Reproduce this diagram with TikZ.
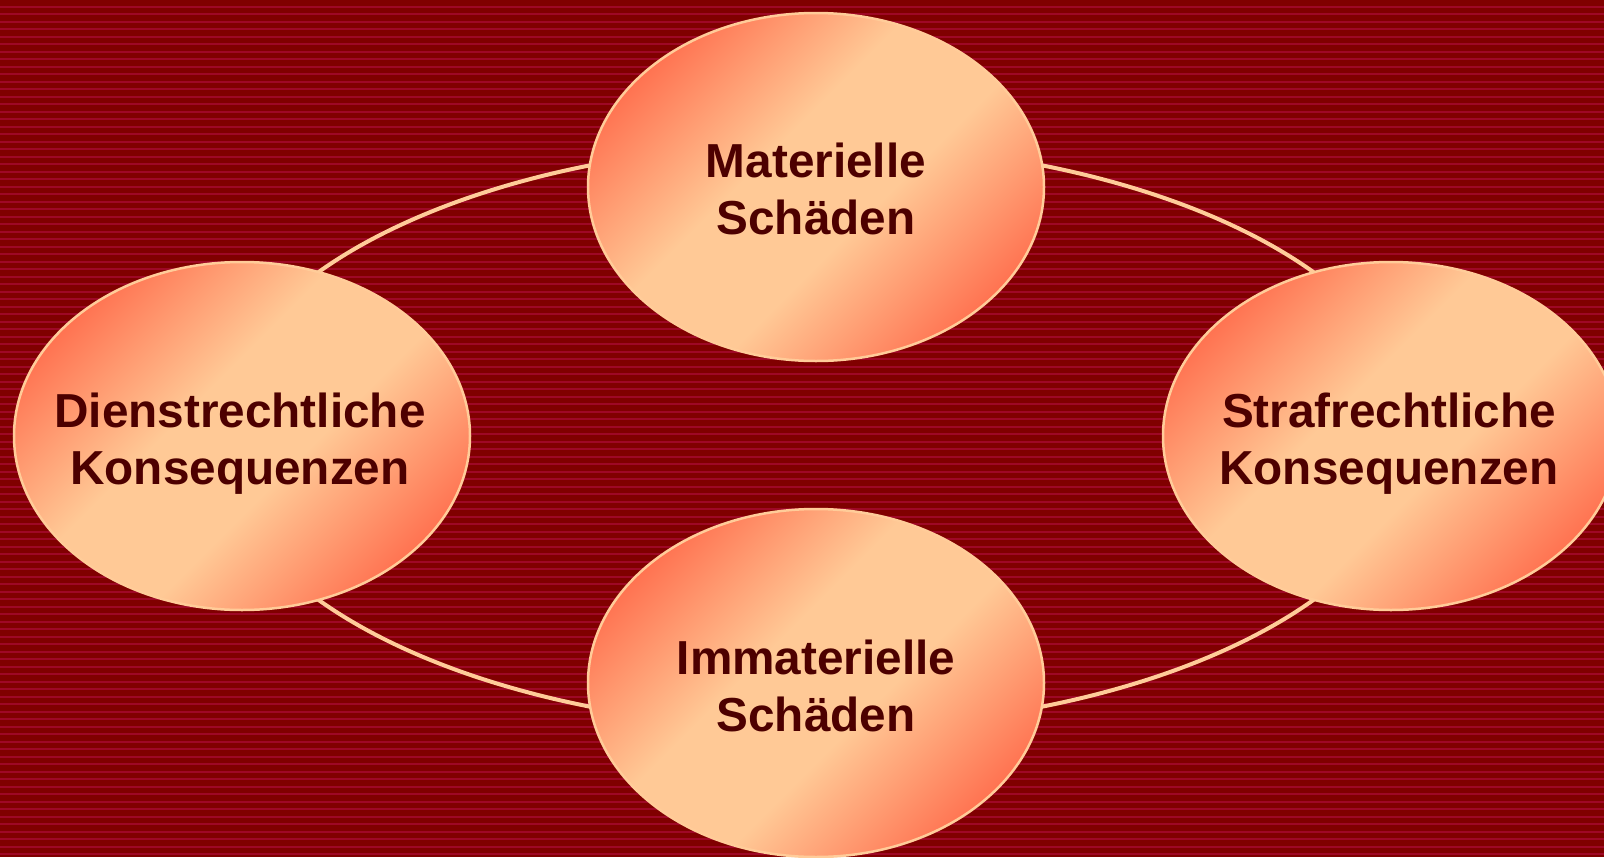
\documentclass[tikz,border=0pt]{standalone}
\usepackage{fontspec}
\setmainfont{Liberation Sans}
\usetikzlibrary{shapes.geometric}
\definecolor{bgred}{HTML}{800000}
\definecolor{stripered}{HTML}{9E0826}
\definecolor{peach}{HTML}{FFC996}
\definecolor{ringcol}{HTML}{FFCC99}
\definecolor{edgeorange}{HTML}{FF7452}
\definecolor{txtcol}{HTML}{4D0000}
\pgfdeclareverticalshading{ovalshade}{100bp}{color(0bp)=(edgeorange); color(25bp)=(edgeorange); color(43bp)=(peach); color(57bp)=(peach); color(75bp)=(edgeorange); color(100bp)=(edgeorange)}
\tikzset{
  oval/.style={ellipse, minimum width=456pt, minimum height=348pt, inner sep=0pt,
    draw=ringcol, line width=2.5pt, shading=ovalshade, shading angle=45},
  ovaltext/.style={font=\fontsize{47.7pt}{57pt}\selectfont\bfseries, text=txtcol, align=center},
  ring/.style={draw=ringcol, line width=4pt}
}
\begin{document}
\begin{tikzpicture}[x=1pt,y=-1pt]
\useasboundingbox (0,0) rectangle (1604,857);
\fill[bgred] (0,0) rectangle (1604,857);
\foreach \i in {0,...,114}{
  \draw[stripered, line width=1.8pt] (0,6.7+7.5*\i) -- (1604,6.7+7.5*\i);
}
\draw[ring] (816,436) ellipse [x radius=601pt, y radius=292pt];
\node[oval] (mat) at (816,187) {};
\node[oval] (dien) at (242,436) {};
\node[oval] (straf) at (1391,436) {};
\node[oval] (imm) at (816,683) {};
\node[ovaltext] (matt) at ([yshift=-2pt]mat.center) {Materielle\\Schäden};
\node[ovaltext] (dient) at ([xshift=-2pt,yshift=-8pt]dien.center) {Dienstrechtliche\\Konsequenzen};
\node[ovaltext] (straft) at ([xshift=-2pt,yshift=-8pt]straf.center) {Strafrechtliche\\Konsequenzen};
\node[ovaltext] (immt) at ([yshift=-3pt]imm.center) {Immaterielle\\Schäden};
\end{tikzpicture}
\end{document}
